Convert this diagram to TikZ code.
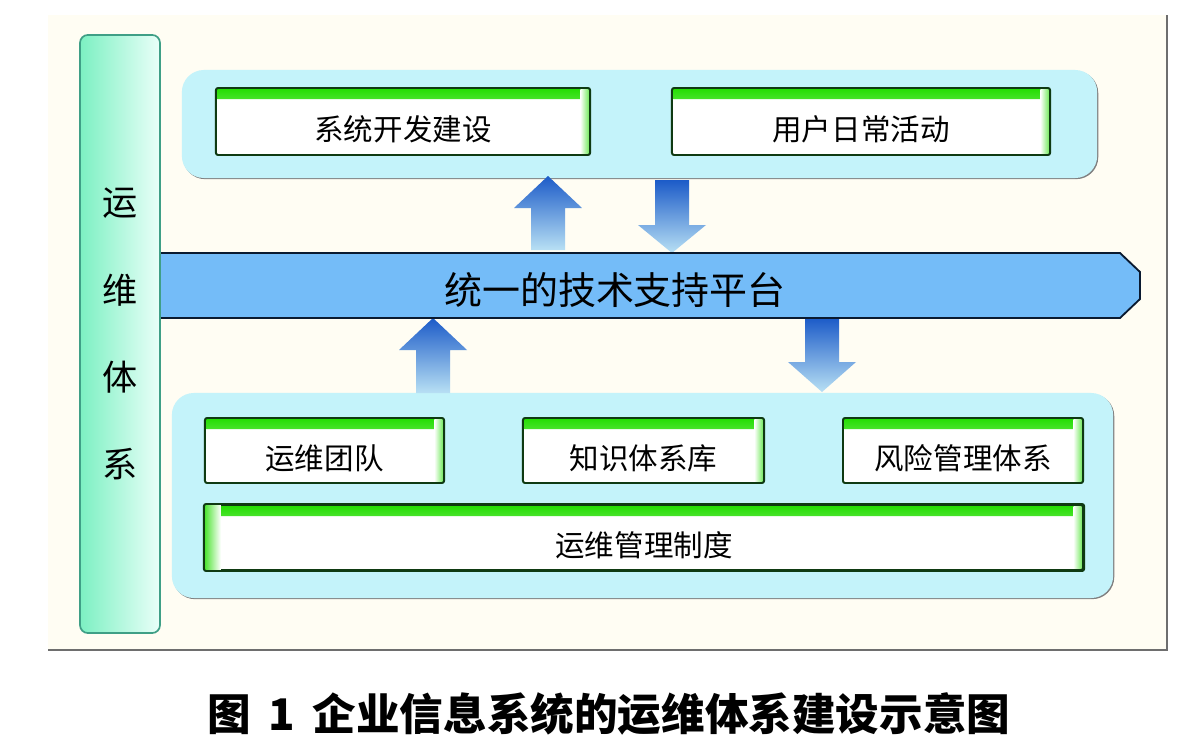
\documentclass[tikz,border=0pt]{standalone}
\usepackage{fontspec}
\setmainfont{Noto Sans CJK SC}
\usetikzlibrary{shadows}
\definecolor{panelbg}{HTML}{FFFDF3}
\definecolor{panelline}{HTML}{6E6E6E}
\definecolor{contcyan}{HTML}{C4F3FA}
\definecolor{barleft}{HTML}{7CF0C2}
\definecolor{barright}{HTML}{EAFFF9}
\definecolor{barline}{HTML}{3F9F86}
\definecolor{glowgreen}{HTML}{22DD00}
\definecolor{boxline}{HTML}{0F3A12}
\definecolor{platblue}{HTML}{74BCF8}
\definecolor{platline}{HTML}{0A1A30}
\definecolor{arrdark}{HTML}{1C5BC8}
\definecolor{arrlight}{HTML}{B8E0F4}
\tikzset{>=latex}
\tikzset{
  container/.style={fill=contcyan, rounded corners=0.55cm,
    drop shadow={shadow xshift=0.8pt, shadow yshift=-0.8pt, fill=gray, opacity=1}},
  itembox/.style={draw=boxline, line width=1.4pt, fill=white, rounded corners=1.5pt,
    font=\fontsize{21}{21}\selectfont, text height=27pt, text depth=0.4pt,
    path picture={
      \shade[top color=glowgreen, bottom color=white]
        (path picture bounding box.north west) rectangle ([yshift=-8pt]path picture bounding box.north east);
      \shade[left color=white, right color=glowgreen!70]
        ([xshift=-7pt]path picture bounding box.north east) rectangle (path picture bounding box.south east);
    }},
  sidebar/.style={draw=barline, line width=1.2pt, left color=barleft, right color=barright,
    rounded corners=0.2cm, align=center, font=\fontsize{25}{62}\selectfont},
}
% block arrow: x, base, head base, tip
\newcommand{\blockarrow}[4]{%
  \shade[top color=arrdark, bottom color=arrlight]
    (#1-17,#2) -- (#1-17,#3) -- (#1-34,#3) -- (#1,#4) -- (#1+34,#3) -- (#1+17,#3) -- (#1+17,#2) -- cycle;}

\begin{document}
\begin{tikzpicture}[x=0.025cm, y=-0.025cm]
  \useasboundingbox (0,0) rectangle (1200,748);
  \fill[white] (0,0) rectangle (1200,748);

  % panel
  \fill[panelbg] (48,15) rectangle (1167,650);
  \draw[panelline, line width=1.2pt] (48,650) -- (1167,650) -- (1167,15);

  % containers
  \node[container, minimum width=22.875cm, minimum height=2.7cm] (top) at (639.5,124) {};
  \node[container, minimum width=23.525cm, minimum height=5.125cm] (bottom) at (642.5,495.5) {};

  % top boxes
  \node[itembox, minimum width=9.35cm, minimum height=1.675cm] (dev) at (403,121.5) {系统开发建设};
  \node[itembox, minimum width=9.45cm, minimum height=1.675cm] (user) at (861,121.5) {用户日常活动};

  % bottom boxes
  \node[itembox, minimum width=5.975cm, minimum height=1.625cm] (team) at (324.5,450.5) {运维团队};
  \node[itembox, minimum width=6.025cm, minimum height=1.625cm] (know) at (643.5,450.5) {知识体系库};
  \node[itembox, minimum width=6cm, minimum height=1.625cm] (risk) at (963,450.5) {风险管理体系};
  \node[itembox, minimum width=21.95cm, minimum height=1.625cm] (rule) at (644,537.5) {运维管理制度};
  \fill[left color=glowgreen!80, right color=white] ([xshift=0.7pt,yshift=-0.7pt]rule.north west) rectangle ([xshift=12pt,yshift=0.7pt]rule.south west);
  \draw[boxline, line width=1.4pt, rounded corners=1.5pt] (rule.north west) rectangle (rule.south east);

  % arrows
  \blockarrow{548}{250}{208}{176}
  \blockarrow{672}{180}{225}{253}
  \blockarrow{433}{393}{350}{318}
  \blockarrow{822}{318}{362}{392}

  % platform
  \fill[platblue] (160,253) -- (1120,253) -- (1140,272) -- (1140,299) -- (1120,318) -- (160,318) -- cycle;
  \draw[platline, line width=1.3pt] (160,253) -- (1120,253) -- (1140,272) -- (1140,299) -- (1120,318) -- (160,318);
  \node[font=\fontsize{27}{27}\selectfont] (plat) at (615,290) {统一的技术支持平台};

  % side bar
  \node[sidebar, minimum width=2cm, minimum height=14.95cm] (ops) at (120,334) {运\\维\\体\\系};

  % caption
  \node[font=\bfseries\fontsize{31}{31}\selectfont] (caption) at (609,714) {图\hspace{0.4em}1\hspace{0.4em}企业信息系统的运维体系建设示意图};
\end{tikzpicture}
\end{document}
